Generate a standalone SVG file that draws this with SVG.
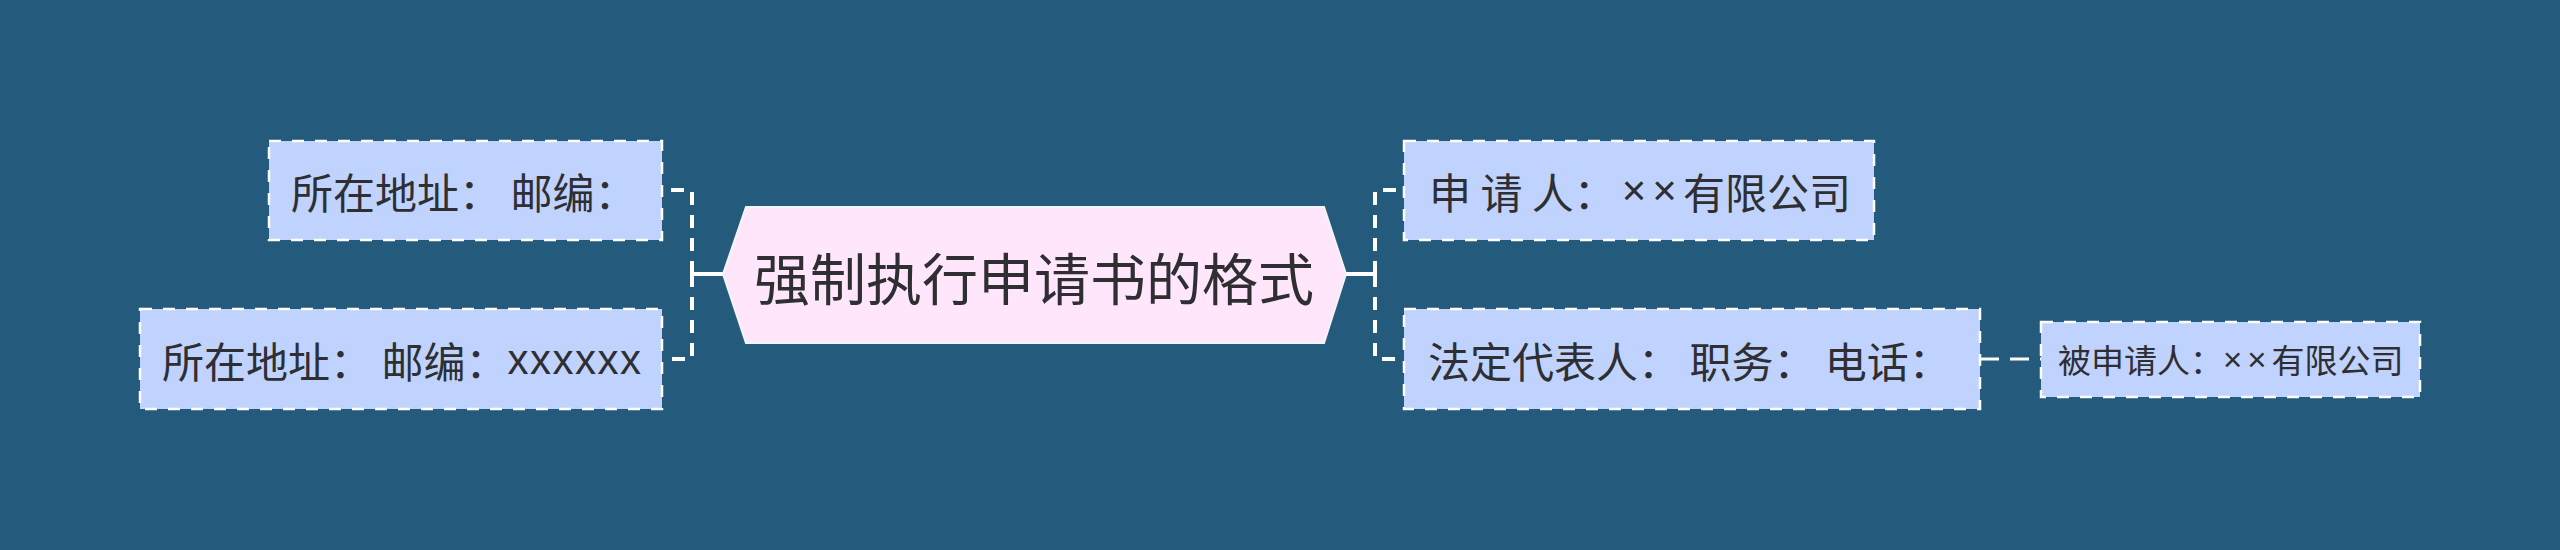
<svg xmlns="http://www.w3.org/2000/svg" width="2560" height="550" viewBox="0 0 2560 550">
<style>
.bg{fill:#245a7c}
.box{fill:#bfd3fe;stroke:#ffffff;stroke-width:2.5;stroke-dasharray:12 11}
.hex{fill:#ffe6fb;stroke:#f4f4f8;stroke-width:2}
.t{font-family:"Noto Sans CJK SC","Noto Sans",sans-serif;fill:#2e2e33;dominant-baseline:central}
.t1{font-size:42px}
.t0{font-size:56px;text-anchor:middle}
.t2{font-size:33px}
.lat{font-family:"Liberation Sans","Noto Sans",sans-serif}
.mul{letter-spacing:5px}
.solid{fill:none;stroke:#ffffff;stroke-width:4}
.dash{fill:none;stroke:#ffffff;stroke-width:4;stroke-dasharray:13 10}
.dash2{fill:none;stroke:#ffffff;stroke-width:3;stroke-dasharray:19 11}
</style>
<rect class="bg" x="0" y="0" width="2560" height="550"/>
<g id="connectors">
<path class="solid" d="M723 274 H692"/>
<path class="dash" d="M692 274 V190 H662"/>
<path class="dash" d="M692 274 V359 H662"/>
<path class="solid" d="M1346 274 H1375"/>
<path class="dash" d="M1375 274 V190 H1404"/>
<path class="dash" d="M1375 274 V359 H1404"/>
<path class="dash2" d="M1980 359 H2041"/>
</g>
<g id="root">
<polygon class="hex" points="723,274 746,207 1324,207 1346,274 1324,343 746,343"/>
<text class="t t0" x="1034" y="275">强制执行申请书的格式</text>
</g>
<g id="node-a">
<rect class="box" x="269" y="141" width="393" height="99"/>
<text class="t t1" x="291" y="190">所在地址： 邮编：</text>
</g>
<g id="node-b">
<rect class="box" x="140" y="309" width="522" height="100"/>
<text class="t t1" x="162" y="359">所在地址： 邮编：<tspan class="lat" letter-spacing="1.5">xxxxxx</tspan></text>
</g>
<g id="node-c">
<rect class="box" x="1404" y="141" width="470" height="99"/>
<text class="t t1" x="1429" y="190">申 请 人：<tspan class="lat" dx="6" letter-spacing="6">××</tspan>有限公司</text>
</g>
<g id="node-d">
<rect class="box" x="1404" y="309" width="576" height="100"/>
<text class="t t1" x="1428" y="359">法定代表人： 职务： 电话：</text>
</g>
<g id="node-e">
<rect class="box" x="2041" y="322" width="379" height="75"/>
<text class="t t2" x="2058" y="359">被申请人：<tspan class="lat mul">××</tspan>有限公司</text>
</g>
</svg>
